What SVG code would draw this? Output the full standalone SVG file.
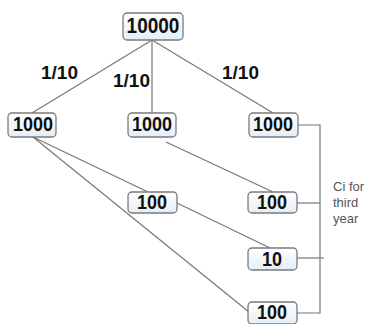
<svg xmlns="http://www.w3.org/2000/svg" width="366" height="324" viewBox="0 0 366 324">
<defs>
<linearGradient id="g" x1="0" y1="0" x2="0" y2="1">
<stop offset="0" stop-color="#ffffff"/>
<stop offset="1" stop-color="#e4eef8"/>
</linearGradient>
<style>
.box{fill:url(#g);stroke:#7a7a7a;stroke-width:1.3}
.num{font-family:"Liberation Sans",Arial,sans-serif;font-weight:bold;fill:#111;text-anchor:middle}
.lbl{font-family:"Liberation Sans",Arial,sans-serif;font-weight:bold;font-size:19px;fill:#111}
.note{font-family:"Liberation Sans",Arial,sans-serif;font-size:13px;fill:#555}
.ln{stroke:#777;stroke-width:1.2;fill:none}
</style>
</defs>
<rect width="366" height="324" fill="#fff"/>
<g id="connectors">
<line class="ln" x1="152" y1="40" x2="32" y2="113"/>
<line class="ln" x1="152" y1="40" x2="152" y2="113"/>
<line class="ln" x1="152" y1="40" x2="273" y2="113"/>
<line class="ln" x1="33" y1="137" x2="148" y2="192"/>
<line class="ln" x1="33" y1="137" x2="249" y2="312"/>
<line class="ln" x1="166" y1="142" x2="273" y2="192"/>
<line class="ln" x1="177" y1="203" x2="270" y2="248"/>
<polyline class="ln" points="298,125 320,125 320,313 297,313"/>
<line class="ln" x1="297" y1="203" x2="320" y2="203"/>
<line class="ln" x1="297" y1="258" x2="324" y2="258"/>
</g>
<g id="n10000"><rect class="box" x="123" y="13" width="60" height="27" rx="4"/><text class="num" transform="translate(153,33) scale(1,1.15)" font-size="19">10000</text></g>
<g id="n1000a"><rect class="box" x="8" y="113" width="48" height="24" rx="4"/><text class="num" transform="translate(33,131) scale(1,1.15)" font-size="18">1000</text></g>
<g id="n1000b"><rect class="box" x="128" y="113" width="48" height="24" rx="4"/><text class="num" transform="translate(152,131) scale(1,1.15)" font-size="18">1000</text></g>
<g id="n1000c"><rect class="box" x="249" y="113" width="49" height="24" rx="4"/><text class="num" transform="translate(273,131) scale(1,1.15)" font-size="18">1000</text></g>
<g id="n100a"><rect class="box" x="128" y="192" width="49" height="21" rx="4"/><text class="num" transform="translate(152,209) scale(1,1.15)" font-size="18">100</text></g>
<g id="n100b"><rect class="box" x="248" y="192" width="49" height="21" rx="4"/><text class="num" transform="translate(272,209) scale(1,1.15)" font-size="18">100</text></g>
<g id="n10"><rect class="box" x="248" y="248" width="49" height="22" rx="4"/><text class="num" transform="translate(272,266) scale(1,1.15)" font-size="18">10</text></g>
<g id="n100c"><rect class="box" x="248" y="302" width="49" height="22" rx="4"/><text class="num" transform="translate(272,319) scale(1,1.15)" font-size="18">100</text></g>
<g id="labels">
<text class="lbl" x="41" y="79">1/10</text>
<text class="lbl" x="113" y="87">1/10</text>
<text class="lbl" x="222" y="79">1/10</text>
<text class="note" x="333" y="191">Ci for</text>
<text class="note" x="333" y="207">third</text>
<text class="note" x="333" y="223">year</text>
</g>
</svg>
